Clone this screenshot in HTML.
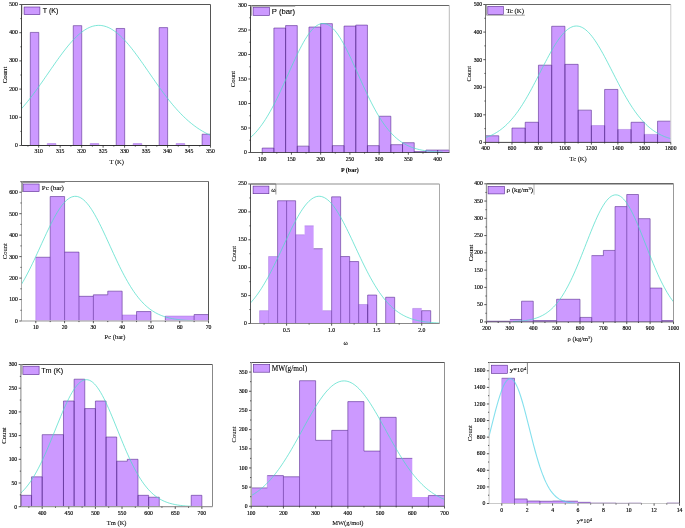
<!DOCTYPE html>
<html lang="en"><head><meta charset="utf-8"><title>Histograms</title>
<style>
html,body{margin:0;padding:0;background:#fff;}
body{width:685px;height:528px;overflow:hidden;}
svg{display:block;}
</style></head><body>
<svg width="685" height="528" viewBox="0 0 685 528">
<rect width="685" height="528" fill="#ffffff"/>
<g>
<path d="M30.31 145.5V32.42H38.77V145.5ZM47.27 145.5V143.53H55.86V145.5ZM73.26 145.5V25.65H81.72V145.5ZM90.23 145.5V143.53H98.82V145.5ZM116.21 145.5V28.47H124.68V145.5ZM133.18 145.5V143.53H141.77V145.5ZM159.17 145.5V27.62H167.63V145.5ZM176.14 145.5V143.53H184.73V145.5ZM202.12 145.5V134.22H210.5V145.5Z" fill="#CC99FF"/>
<path d="M47.27 145.5V143.53M47.27 143.53H55.86M55.86 143.53V145.5M90.23 145.5V143.53M90.23 143.53H98.82M98.82 143.53V145.5M133.18 145.5V143.53M133.18 143.53H141.77M141.77 143.53V145.5M176.14 145.5V143.53M176.14 143.53H184.73M184.73 143.53V145.5" fill="none" stroke="#A577DD" stroke-width="0.5"/>
<path d="M30.31 145.5V32.42M30.31 32.42H38.77M38.77 32.42V145.5M73.26 145.5V25.65M73.26 25.65H81.72M81.72 25.65V145.5M116.21 145.5V28.47M116.21 28.47H124.68M124.68 28.47V145.5M159.17 145.5V27.62M159.17 27.62H167.63M167.63 27.62V145.5M202.12 145.5V134.22M202.12 134.22H210.5" fill="none" stroke="#57298F" stroke-width="0.58"/>
<polyline fill="none" stroke="#4ADCC8" stroke-opacity="0.72" stroke-width="1.0" points="21.5,108.71 23.08,106.91 24.65,105.07 26.23,103.17 27.8,101.24 29.37,99.26 30.95,97.23 32.52,95.17 34.1,93.07 35.68,90.94 37.25,88.78 38.83,86.59 40.4,84.37 41.97,82.13 43.55,79.88 45.12,77.61 46.7,75.33 48.28,73.05 49.85,70.77 51.42,68.49 53,66.22 54.57,63.96 56.15,61.72 57.73,59.5 59.3,57.31 60.88,55.16 62.45,53.04 64.02,50.97 65.6,48.94 67.17,46.97 68.75,45.05 70.33,43.2 71.9,41.42 73.48,39.71 75.05,38.08 76.62,36.53 78.2,35.06 79.77,33.69 81.35,32.41 82.93,31.23 84.5,30.15 86.08,29.17 87.65,28.3 89.22,27.54 90.8,26.89 92.38,26.35 93.95,25.93 95.53,25.63 97.1,25.44 98.67,25.37 100.25,25.42 101.82,25.58 103.4,25.87 104.98,26.27 106.55,26.78 108.13,27.41 109.7,28.15 111.27,29 112.85,29.96 114.42,31.02 116,32.19 117.58,33.45 119.15,34.81 120.73,36.26 122.3,37.79 123.87,39.41 125.45,41.1 127.02,42.87 128.6,44.71 130.18,46.62 131.75,48.58 133.33,50.6 134.9,52.66 136.47,54.77 138.05,56.92 139.62,59.1 141.2,61.32 142.78,63.55 144.35,65.81 145.92,68.08 147.5,70.35 149.07,72.64 150.65,74.92 152.23,77.2 153.8,79.47 155.38,81.72 156.95,83.96 158.52,86.18 160.1,88.38 161.67,90.55 163.25,92.69 164.83,94.79 166.4,96.86 167.98,98.89 169.55,100.88 171.12,102.83 172.7,104.73 174.28,106.58 175.85,108.39 177.43,110.15 179,111.85 180.57,113.51 182.15,115.12 183.72,116.67 185.3,118.17 186.88,119.62 188.45,121.01 190.03,122.35 191.6,123.64 193.18,124.88 194.75,126.07 196.32,127.21 197.9,128.3 199.48,129.33 201.05,130.33 202.63,131.27 204.2,132.17 205.77,133.02 207.35,133.83 208.92,134.6 210.5,135.33"/>
<path d="M21.5 4.5H210.5" fill="none" stroke="#555" stroke-width="1.0"/>
<path d="M210.5 4.5V145.5" fill="none" stroke="#555" stroke-width="1.0"/>
<path d="M21.5 4.5V145.5" fill="none" stroke="#444" stroke-width="1.0"/>
<path d="M21.5 145.5H210.5" fill="none" stroke="#333" stroke-width="1.0"/>
<path d="M38.68 145.5v2.2M60.16 145.5v2.2M81.64 145.5v2.2M103.11 145.5v2.2M124.59 145.5v2.2M146.07 145.5v2.2M167.55 145.5v2.2M189.02 145.5v2.2M210.5 145.5v2.2M27.94 145.5v1.1M49.42 145.5v1.1M70.9 145.5v1.1M92.38 145.5v1.1M113.85 145.5v1.1M135.33 145.5v1.1M156.81 145.5v1.1M178.28 145.5v1.1M199.76 145.5v1.1M21.5 145.5h-2.2M21.5 117.3h-2.2M21.5 89.1h-2.2M21.5 60.9h-2.2M21.5 32.7h-2.2M21.5 4.5h-2.2M21.5 131.4h-1.1M21.5 103.2h-1.1M21.5 75h-1.1M21.5 46.8h-1.1M21.5 18.6h-1.1" stroke="#222222" stroke-width="0.75" fill="none"/>
<g font-family='"Liberation Serif", serif' font-size="5.7" fill="#000000" stroke="#000000" stroke-width="0.15">
<g text-anchor="middle">
<text x="38.68" y="153.2">310</text>
<text x="60.16" y="153.2">315</text>
<text x="81.64" y="153.2">320</text>
<text x="103.11" y="153.2">325</text>
<text x="124.59" y="153.2">330</text>
<text x="146.07" y="153.2">335</text>
<text x="167.55" y="153.2">340</text>
<text x="189.02" y="153.2">345</text>
<text x="210.5" y="153.2">350</text>
</g><g text-anchor="end">
<text x="17.8" y="146.98">0</text>
<text x="17.8" y="118.78">100</text>
<text x="17.8" y="90.58">200</text>
<text x="17.8" y="62.38">300</text>
<text x="17.8" y="34.18">400</text>
<text x="17.8" y="5.98">500</text>
</g></g>
<g font-family='"Liberation Serif", serif' font-size="6.8" fill="#000000" stroke="#000000" stroke-width="0.08" text-anchor="middle">
<text x="116.7" y="163.5" font-size="6.5">T (K)</text>
<text transform="translate(7 75) rotate(-90)">Count</text>
</g>
<rect x="24.1" y="7" width="15.8" height="7.6" fill="#CC99FF" stroke="#57298F" stroke-width="0.6"/>
<text x="42.8" y="12.9" font-family='"Liberation Sans", sans-serif' font-size="7.1" fill="#000000" stroke="#000000" stroke-width="0.1">T (K)</text>
<path d="M22.2 5V14.6" stroke="#999" stroke-width="0.5" fill="none"/>
</g>
<g>
<path d="M262.19 152.5V148.09H273.89V28.04H285.58V25.59H297.28V146.13H308.97V27.06H320.66V23.63H332.36V145.64H344.05V26.08H355.75V25.1H367.44V145.64H379.14V116.24H390.83V144.66H402.52V142.7H414.22V151.52H425.91V150.05H437.61V150.05H449.3V152.5Z" fill="#CC99FF"/>
<path d="M262.19 152.5V148.09M262.19 148.09H273.89M273.89 148.09V152.5M273.89 152.5V28.04M273.89 28.04H285.58M285.58 28.04V152.5M285.58 152.5V25.59M285.58 25.59H297.28M297.28 25.59V152.5M297.28 152.5V146.13M297.28 146.13H308.97M308.97 146.13V152.5M308.97 152.5V27.06M308.97 27.06H320.66M320.66 27.06V152.5M320.66 152.5V23.63M320.66 23.63H332.36M332.36 23.63V152.5M332.36 152.5V145.64M332.36 145.64H344.05M344.05 145.64V152.5M344.05 152.5V26.08M344.05 26.08H355.75M355.75 26.08V152.5M355.75 152.5V25.1M355.75 25.1H367.44M367.44 25.1V152.5M367.44 152.5V145.64M367.44 145.64H379.14M379.14 145.64V152.5M379.14 152.5V116.24M379.14 116.24H390.83M390.83 116.24V152.5M390.83 152.5V144.66M390.83 144.66H402.52M402.52 144.66V152.5M402.52 152.5V142.7M402.52 142.7H414.22M414.22 142.7V152.5M414.22 152.5V151.52M414.22 151.52H425.91M425.91 151.52V152.5M425.91 152.5V150.05M425.91 150.05H437.61M437.61 150.05V152.5M437.61 152.5V150.05M437.61 150.05H449.3M449.3 150.05V152.5" fill="none" stroke="#57298F" stroke-width="0.58"/>
<polyline fill="none" stroke="#4ADCC8" stroke-opacity="0.72" stroke-width="1.0" points="250.5,137.57 252.16,136.05 253.81,134.41 255.47,132.65 257.13,130.77 258.78,128.76 260.44,126.63 262.1,124.37 263.75,121.98 265.41,119.46 267.07,116.81 268.72,114.03 270.38,111.14 272.04,108.12 273.69,105 275.35,101.76 277.01,98.43 278.66,95.01 280.32,91.51 281.98,87.94 283.63,84.31 285.29,80.65 286.95,76.95 288.6,73.24 290.26,69.54 291.92,65.86 293.57,62.22 295.23,58.64 296.89,55.13 298.54,51.72 300.2,48.43 301.86,45.26 303.51,42.25 305.17,39.41 306.83,36.76 308.48,34.31 310.14,32.07 311.8,30.07 313.45,28.32 315.11,26.82 316.77,25.6 318.42,24.64 320.08,23.97 321.74,23.58 323.39,23.49 325.05,23.68 326.71,24.16 328.36,24.93 330.02,25.97 331.68,27.29 333.33,28.87 334.99,30.71 336.65,32.78 338.3,35.09 339.96,37.61 341.62,40.33 343.27,43.23 344.93,46.29 346.59,49.5 348.24,52.83 349.9,56.28 351.56,59.81 353.21,63.42 354.87,67.07 356.53,70.76 358.18,74.47 359.84,78.17 361.5,81.86 363.15,85.51 364.81,89.12 366.47,92.67 368.12,96.14 369.78,99.54 371.44,102.84 373.09,106.04 374.75,109.13 376.41,112.11 378.06,114.96 379.72,117.69 381.38,120.3 383.03,122.78 384.69,125.13 386.35,127.34 388,129.44 389.66,131.4 391.32,133.24 392.97,134.96 394.63,136.56 396.29,138.05 397.94,139.43 399.6,140.7 401.26,141.88 402.91,142.95 404.57,143.94 406.23,144.85 407.88,145.67 409.54,146.42 411.2,147.09 412.85,147.71 414.51,148.26 416.17,148.76 417.82,149.21 419.48,149.61 421.14,149.96 422.79,150.28 424.45,150.56 426.11,150.81 427.76,151.04 429.42,151.23 431.08,151.4 432.73,151.55 434.39,151.68 436.05,151.8 437.7,151.9 439.36,151.99 441.02,152.06 442.67,152.13"/>
<path d="M250.5 5.5H449.3" fill="none" stroke="#666" stroke-width="1.0"/>
<path d="M449.3 5.5V152.5" fill="none" stroke="#bbb" stroke-width="1.0"/>
<path d="M250.5 5.5V152.5" fill="none" stroke="#444" stroke-width="1.0"/>
<path d="M250.5 152.5H449.3" fill="none" stroke="#2a2a2a" stroke-width="0.8"/>
<path d="M262.19 152.5v2.2M291.43 152.5v2.2M320.66 152.5v2.2M349.9 152.5v2.2M379.14 152.5v2.2M408.37 152.5v2.2M437.61 152.5v2.2M276.81 152.5v1.1M306.05 152.5v1.1M335.28 152.5v1.1M364.52 152.5v1.1M393.75 152.5v1.1M422.99 152.5v1.1M250.5 152.5h-2.2M250.5 128h-2.2M250.5 103.5h-2.2M250.5 79h-2.2M250.5 54.5h-2.2M250.5 30h-2.2M250.5 5.5h-2.2M250.5 140.25h-1.1M250.5 115.75h-1.1M250.5 91.25h-1.1M250.5 66.75h-1.1M250.5 42.25h-1.1M250.5 17.75h-1.1" stroke="#222222" stroke-width="0.75" fill="none"/>
<g font-family='"Liberation Serif", serif' font-size="5.7" fill="#000000" stroke="#000000" stroke-width="0.15">
<g text-anchor="middle">
<text x="262.19" y="160.8">100</text>
<text x="291.43" y="160.8">150</text>
<text x="320.66" y="160.8">200</text>
<text x="349.9" y="160.8">250</text>
<text x="379.14" y="160.8">300</text>
<text x="408.37" y="160.8">350</text>
<text x="437.61" y="160.8">400</text>
</g><g text-anchor="end">
<text x="246.8" y="154.28">0</text>
<text x="246.8" y="129.78">50</text>
<text x="246.8" y="105.28">100</text>
<text x="246.8" y="80.78">150</text>
<text x="246.8" y="56.28">200</text>
<text x="246.8" y="31.78">250</text>
<text x="246.8" y="7.28">300</text>
</g></g>
<g font-family='"Liberation Serif", serif' font-size="6.7" fill="#000000" stroke="#000000" stroke-width="0.08" text-anchor="middle">
<text x="349.9" y="171.7" font-size="6.0" font-weight="bold">P (bar)</text>
<text transform="translate(235.3 79) rotate(-90)">Count</text>
</g>
<rect x="253.1" y="7.2" width="16.4" height="8.3" fill="#CC99FF" stroke="#57298F" stroke-width="0.6"/>
<text x="271.8" y="14.1" font-family='"Liberation Sans", sans-serif' font-size="7.7" fill="#000000" stroke="#000000" stroke-width="0.1">P (bar)</text>
<path d="M251.5 5.5V15.8" stroke="#aaa" stroke-width="1.0" fill="none"/>
<path d="M250.5 6.4H295.2" stroke="#aaa" stroke-width="0.9" fill="none"/>
</g>
<g>
<path d="M485.5 142.4V135.78H498.74V142.4ZM511.97 142.4V128.06H525.21V122.27H538.44V65.18H551.68V26.29H564.91V64.35H578.15V110.13H591.39V125.58H604.62V89.45H617.86V129.44H631.09V122.27H644.33V134.4H657.56V121.16H670.8V142.4Z" fill="#CC99FF"/>
<path d="M591.39 125.58H604.62M617.86 129.44H631.09M644.33 134.4H657.56" fill="none" stroke="#A577DD" stroke-width="0.5"/>
<path d="M485.5 142.4V135.78M485.5 135.78H498.74M498.74 135.78V142.4M511.97 142.4V128.06M511.97 128.06H525.21M525.21 128.06V142.4M525.21 142.4V122.27M525.21 122.27H538.44M538.44 122.27V142.4M538.44 142.4V65.18M538.44 65.18H551.68M551.68 65.18V142.4M551.68 142.4V26.29M551.68 26.29H564.91M564.91 26.29V142.4M564.91 142.4V64.35M564.91 64.35H578.15M578.15 64.35V142.4M578.15 142.4V110.13M578.15 110.13H591.39M591.39 110.13V142.4M591.39 142.4V125.58M604.62 125.58V142.4M604.62 142.4V89.45M604.62 89.45H617.86M617.86 89.45V142.4M617.86 142.4V129.44M631.09 129.44V142.4M631.09 142.4V122.27M631.09 122.27H644.33M644.33 122.27V142.4M644.33 142.4V134.4M657.56 134.4V142.4M657.56 142.4V121.16M657.56 121.16H670.8" fill="none" stroke="#57298F" stroke-width="0.58"/>
<polyline fill="none" stroke="#4ADCC8" stroke-opacity="0.72" stroke-width="1.0" points="485.5,137.61 487.04,137.06 488.59,136.47 490.13,135.82 491.68,135.11 493.22,134.35 494.76,133.52 496.31,132.62 497.85,131.65 499.4,130.6 500.94,129.48 502.49,128.28 504.03,126.99 505.57,125.62 507.12,124.16 508.66,122.61 510.21,120.96 511.75,119.22 513.29,117.39 514.84,115.46 516.38,113.44 517.93,111.32 519.47,109.11 521.02,106.8 522.56,104.41 524.1,101.92 525.65,99.36 527.19,96.72 528.74,94 530.28,91.22 531.82,88.38 533.37,85.48 534.91,82.54 536.46,79.56 538,76.56 539.55,73.54 541.09,70.51 542.63,67.49 544.18,64.48 545.72,61.5 547.27,58.57 548.81,55.68 550.36,52.86 551.9,50.12 553.44,47.47 554.99,44.93 556.53,42.5 558.08,40.2 559.62,38.03 561.16,36.02 562.71,34.17 564.25,32.48 565.8,30.98 567.34,29.66 568.88,28.54 570.43,27.62 571.97,26.9 573.52,26.39 575.06,26.1 576.61,26.01 578.15,26.15 579.69,26.49 581.24,27.05 582.78,27.81 584.33,28.78 585.87,29.95 587.41,31.31 588.96,32.85 590.5,34.57 592.05,36.47 593.59,38.51 595.14,40.71 596.68,43.04 598.22,45.5 599.77,48.07 601.31,50.74 602.86,53.5 604.4,56.34 605.94,59.23 607.49,62.18 609.03,65.17 610.58,68.18 612.12,71.2 613.67,74.23 615.21,77.25 616.75,80.25 618.3,83.22 619.84,86.15 621.39,89.03 622.93,91.86 624.47,94.63 626.02,97.33 627.56,99.95 629.11,102.5 630.65,104.96 632.2,107.34 633.74,109.62 635.28,111.81 636.83,113.91 638.37,115.91 639.92,117.82 641.46,119.63 643,121.35 644.55,122.97 646.09,124.5 647.64,125.94 649.18,127.29 650.73,128.56 652.27,129.75 653.81,130.85 655.36,131.88 656.9,132.83 658.45,133.71 659.99,134.53 661.53,135.28 663.08,135.97 664.62,136.61 666.17,137.19 667.71,137.72 669.26,138.21 670.8,138.65"/>
<path d="M485.5 4.5H670.8" fill="none" stroke="#666" stroke-width="1.0"/>
<path d="M670.8 4.5V142.4" fill="none" stroke="#ccc" stroke-width="1.0"/>
<path d="M485.5 4.5V142.4" fill="none" stroke="#777" stroke-width="1.0"/>
<path d="M485.5 142.4H670.8" fill="none" stroke="#444" stroke-width="1.0"/>
<path d="M485.5 142.4v2.2M511.97 142.4v2.2M538.44 142.4v2.2M564.91 142.4v2.2M591.39 142.4v2.2M617.86 142.4v2.2M644.33 142.4v2.2M670.8 142.4v2.2M498.74 142.4v1.1M525.21 142.4v1.1M551.68 142.4v1.1M578.15 142.4v1.1M604.62 142.4v1.1M631.09 142.4v1.1M657.56 142.4v1.1M485.5 142.4h-2.2M485.5 114.82h-2.2M485.5 87.24h-2.2M485.5 59.66h-2.2M485.5 32.08h-2.2M485.5 4.5h-2.2M485.5 128.61h-1.1M485.5 101.03h-1.1M485.5 73.45h-1.1M485.5 45.87h-1.1M485.5 18.29h-1.1" stroke="#222222" stroke-width="0.75" fill="none"/>
<g font-family='"Liberation Serif", serif' font-size="5.7" fill="#000000" stroke="#000000" stroke-width="0.15">
<g text-anchor="middle">
<text x="485.5" y="150.4">400</text>
<text x="511.97" y="150.4">600</text>
<text x="538.44" y="150.4">800</text>
<text x="564.91" y="150.4">1000</text>
<text x="591.39" y="150.4">1200</text>
<text x="617.86" y="150.4">1400</text>
<text x="644.33" y="150.4">1600</text>
<text x="670.8" y="150.4">1800</text>
</g><g text-anchor="end">
<text x="482.2" y="144.28">0</text>
<text x="482.2" y="116.7">100</text>
<text x="482.2" y="89.12">200</text>
<text x="482.2" y="61.54">300</text>
<text x="482.2" y="33.96">400</text>
<text x="482.2" y="6.38">500</text>
</g></g>
<g font-family='"Liberation Serif", serif' font-size="6.3" fill="#000000" stroke="#000000" stroke-width="0.08" text-anchor="middle">
<text x="578.15" y="160.6" font-size="6.5">Tc (K)</text>
<text transform="translate(471.1 73.8) rotate(-90)">Count</text>
</g>
<rect x="487.8" y="6.4" width="15.5" height="8.2" fill="#CC99FF" stroke="#57298F" stroke-width="0.6"/>
<text x="506.2" y="12.9" font-family='"Liberation Serif", serif' font-size="6.8" fill="#000000" stroke="#000000" stroke-width="0.1">Tc (K)</text>
<path d="M486.5 5V15.2" stroke="#aaa" stroke-width="1.0" fill="none"/>
<path d="M486.5 15.2H524.9" stroke="#666" stroke-width="0.6" fill="none"/>
</g>
<g>
<path d="M35.8 321V257.26H50.2V196.52H64.59V252.11H78.98V296.32H93.37V294.82H107.76V291.17H122.15V314.99H136.54V311.56H150.93V321ZM165.33 321V316.06H194.11V314.56H208.5V321Z" fill="#CC99FF"/>
<path d="M35.8 321V257.26M122.15 314.99H136.54M165.33 316.06H194.11" fill="none" stroke="#A577DD" stroke-width="0.5"/>
<path d="M35.8 257.26H50.2M50.2 257.26V321M50.2 196.52H64.59M64.59 196.52V321M50.2 257.26V196.52M64.59 252.11H78.98M78.98 252.11V321M78.98 296.32H93.37M93.37 296.32V321M93.37 294.82H107.76M93.37 296.32V294.82M107.76 291.17H122.15M122.15 291.17V321M107.76 294.82V291.17M136.54 321V311.56M136.54 311.56H150.93M150.93 311.56V321M165.33 321V316.06M194.11 321V314.56M194.11 314.56H208.5" fill="none" stroke="#57298F" stroke-width="0.58"/>
<polyline fill="none" stroke="#4ADCC8" stroke-opacity="0.72" stroke-width="1.0" points="21.5,284.27 23.06,281.62 24.62,278.86 26.18,276 27.73,273.05 29.29,270 30.85,266.87 32.41,263.67 33.97,260.41 35.53,257.09 37.08,253.72 38.64,250.32 40.2,246.91 41.76,243.48 43.32,240.07 44.88,236.68 46.43,233.32 47.99,230.02 49.55,226.79 51.11,223.64 52.67,220.59 54.23,217.66 55.78,214.86 57.34,212.21 58.9,209.72 60.46,207.41 62.02,205.28 63.58,203.36 65.13,201.65 66.69,200.17 68.25,198.91 69.81,197.9 71.37,197.13 72.93,196.61 74.48,196.35 76.04,196.34 77.6,196.58 79.16,197.08 80.72,197.83 82.28,198.83 83.83,200.06 85.39,201.53 86.95,203.22 88.51,205.13 90.07,207.24 91.62,209.53 93.18,212.01 94.74,214.65 96.3,217.44 97.86,220.36 99.42,223.4 100.97,226.54 102.53,229.76 104.09,233.06 105.65,236.41 107.21,239.8 108.77,243.22 110.32,246.64 111.88,250.06 113.44,253.46 115,256.83 116.56,260.15 118.12,263.42 119.68,266.63 121.23,269.76 122.79,272.81 124.35,275.77 125.91,278.64 127.47,281.41 129.03,284.07 130.58,286.62 132.14,289.07 133.7,291.4 135.26,293.61 136.82,295.71 138.38,297.7 139.93,299.58 141.49,301.34 143.05,303 144.61,304.55 146.17,306 147.72,307.35 149.28,308.6 150.84,309.76 152.4,310.83 153.96,311.82 155.52,312.73 157.08,313.57 158.63,314.33 160.19,315.03 161.75,315.67 163.31,316.24 164.87,316.77 166.43,317.24 167.98,317.67 169.54,318.05 171.1,318.4 172.66,318.71 174.22,318.99 175.78,319.23 177.33,319.45 178.89,319.65 180.45,319.82 182.01,319.98 183.57,320.11 185.12,320.23 186.68,320.33 188.24,320.43 189.8,320.51 191.36,320.57 192.92,320.64"/>
<path d="M21.5 181.5H208.5" fill="none" stroke="#777" stroke-width="1.0"/>
<path d="M208.5 181.5V321" fill="none" stroke="#444" stroke-width="0.9"/>
<path d="M21.5 181.5V321" fill="none" stroke="#aaa" stroke-width="1.0"/>
<path d="M21.5 321H208.5" fill="none" stroke="#bbb" stroke-width="1.5"/>
<path d="M35.8 321v2.2M64.59 321v2.2M93.37 321v2.2M122.15 321v2.2M150.93 321v2.2M179.72 321v2.2M208.5 321v2.2M50.2 321v1.1M78.98 321v1.1M107.76 321v1.1M136.54 321v1.1M165.33 321v1.1M194.11 321v1.1M21.5 321h-2.2M21.5 299.54h-2.2M21.5 278.08h-2.2M21.5 256.62h-2.2M21.5 235.15h-2.2M21.5 213.69h-2.2M21.5 192.23h-2.2M21.5 310.27h-1.1M21.5 288.81h-1.1M21.5 267.35h-1.1M21.5 245.88h-1.1M21.5 224.42h-1.1M21.5 202.96h-1.1M21.5 181.5h-1.1" stroke="#222222" stroke-width="0.75" fill="none"/>
<g font-family='"Liberation Serif", serif' font-size="5.7" fill="#000000" stroke="#000000" stroke-width="0.15">
<g text-anchor="middle">
<text x="35.8" y="329.2">10</text>
<text x="64.59" y="329.2">20</text>
<text x="93.37" y="329.2">30</text>
<text x="122.15" y="329.2">40</text>
<text x="150.93" y="329.2">50</text>
<text x="179.72" y="329.2">60</text>
<text x="208.5" y="329.2">70</text>
</g><g text-anchor="end">
<text x="17.8" y="322.88">0</text>
<text x="17.8" y="301.42">100</text>
<text x="17.8" y="279.96">200</text>
<text x="17.8" y="258.5">300</text>
<text x="17.8" y="237.03">400</text>
<text x="17.8" y="215.57">500</text>
<text x="17.8" y="194.11">600</text>
</g></g>
<g font-family='"Liberation Serif", serif' font-size="6.5" fill="#000000" stroke="#000000" stroke-width="0.08" text-anchor="middle">
<text x="115" y="339" font-size="6.5">Pc (bar)</text>
<text transform="translate(7.3 251.25) rotate(-90)">Count</text>
</g>
<rect x="23.1" y="184" width="16" height="7.6" fill="#CC99FF" stroke="#57298F" stroke-width="0.6"/>
<text x="41.8" y="190.2" font-family='"Liberation Serif", serif' font-size="6.9" fill="#000000" stroke="#000000" stroke-width="0.1">Pc (bar)</text>
<path d="M20.8 182.4H64.8" stroke="#888" stroke-width="1.0" fill="none"/>
<path d="M22.5 181.5V192" stroke="#999" stroke-width="1.0" fill="none"/>
</g>
<g>
<path d="M259.58 323.5V310.67H268.59V256.54H277.59V200.74H286.6V200.74H295.61V234.78H304.61V225.85H313.62V248.73H322.63V310.67H331.63V196.83H340.64V256.54H349.65V261.56H358.65V304.53H367.66V295.04H376.67V323.5ZM385.67 323.5V297.27H394.68V323.5ZM412.7 323.5V308.43H421.7V310.67H430.71V323.5Z" fill="#CC99FF"/>
<path d="M259.58 323.5V310.67M259.58 310.67H268.59M268.59 323.5V256.54M268.59 256.54H277.59M295.61 234.78H304.61M304.61 225.85H313.62M322.63 310.67H331.63M358.65 304.53H367.66M412.7 323.5V308.43M412.7 308.43H421.7" fill="none" stroke="#A577DD" stroke-width="0.5"/>
<path d="M277.59 323.5V200.74M277.59 200.74H286.6M286.6 323.5V200.74M286.6 200.74H295.61M295.61 200.74V323.5M313.62 248.73H322.63M331.63 323.5V196.83M331.63 196.83H340.64M340.64 196.83V323.5M340.64 256.54H349.65M349.65 256.54V323.5M349.65 261.56H358.65M358.65 261.56V323.5M367.66 304.53V323.5M367.66 323.5V295.04M367.66 295.04H376.67M376.67 295.04V323.5M385.67 323.5V297.27M385.67 297.27H394.68M394.68 297.27V323.5M421.7 323.5V310.67M421.7 310.67H430.71M430.71 310.67V323.5" fill="none" stroke="#57298F" stroke-width="0.58"/>
<polyline fill="none" stroke="#4ADCC8" stroke-opacity="0.72" stroke-width="1.0" points="250.5,302.94 252.07,301.17 253.65,299.29 255.22,297.3 256.8,295.21 258.38,293 259.95,290.69 261.52,288.27 263.1,285.74 264.68,283.11 266.25,280.38 267.82,277.55 269.4,274.63 270.98,271.63 272.55,268.54 274.12,265.39 275.7,262.17 277.27,258.9 278.85,255.58 280.43,252.23 282,248.86 283.57,245.48 285.15,242.1 286.73,238.74 288.3,235.41 289.88,232.13 291.45,228.9 293.02,225.75 294.6,222.68 296.18,219.72 297.75,216.88 299.32,214.17 300.9,211.61 302.48,209.21 304.05,206.98 305.62,204.93 307.2,203.08 308.77,201.43 310.35,200 311.93,198.8 313.5,197.82 315.07,197.08 316.65,196.57 318.23,196.31 319.8,196.3 321.38,196.53 322.95,197 324.52,197.71 326.1,198.66 327.68,199.83 329.25,201.24 330.82,202.85 332.4,204.68 333.98,206.7 335.55,208.91 337.12,211.29 338.7,213.83 340.27,216.53 341.85,219.35 343.43,222.3 345,225.35 346.57,228.49 348.15,231.71 349.73,234.98 351.3,238.31 352.88,241.67 354.45,245.04 356.02,248.42 357.6,251.8 359.18,255.15 360.75,258.47 362.32,261.75 363.9,264.98 365.48,268.14 367.05,271.23 368.62,274.25 370.2,277.18 371.77,280.02 373.35,282.76 374.93,285.41 376.5,287.95 378.07,290.38 379.65,292.71 381.23,294.93 382.8,297.04 384.38,299.04 385.95,300.93 387.52,302.72 389.1,304.4 390.68,305.98 392.25,307.46 393.82,308.84 395.4,310.13 396.98,311.33 398.55,312.44 400.12,313.47 401.7,314.43 403.27,315.3 404.85,316.11 406.42,316.85 408,317.53 409.57,318.15 411.15,318.71 412.73,319.22 414.3,319.69 415.88,320.11 417.45,320.49 419.02,320.83 420.6,321.14 422.18,321.42 423.75,321.66 425.32,321.89 426.9,322.08 428.48,322.26 430.05,322.42 431.62,322.55 433.2,322.68 434.77,322.78 436.35,322.88 437.93,322.96 439.5,323.03"/>
<path d="M250.5 184H439.5" fill="none" stroke="#b4b4b4" stroke-width="1.4"/>
<path d="M439.5 184V323.5" fill="none" stroke="#aaa" stroke-width="1.0"/>
<path d="M250.5 184V323.5" fill="none" stroke="#555" stroke-width="1.0"/>
<path d="M250.5 323.5H439.5" fill="none" stroke="#888" stroke-width="1.0"/>
<path d="M286.6 323.5v2.2M331.63 323.5v2.2M376.67 323.5v2.2M421.7 323.5v2.2M264.08 323.5v1.1M309.12 323.5v1.1M354.15 323.5v1.1M399.19 323.5v1.1M250.5 323.5h-2.2M250.5 295.6h-2.2M250.5 267.7h-2.2M250.5 239.8h-2.2M250.5 211.9h-2.2M250.5 184h-2.2M250.5 309.55h-1.1M250.5 281.65h-1.1M250.5 253.75h-1.1M250.5 225.85h-1.1M250.5 197.95h-1.1" stroke="#222222" stroke-width="0.75" fill="none"/>
<g font-family='"Liberation Serif", serif' font-size="5.7" fill="#000000" stroke="#000000" stroke-width="0.15">
<g text-anchor="middle">
<text x="286.6" y="332.4">0.5</text>
<text x="331.63" y="332.4">1.0</text>
<text x="376.67" y="332.4">1.5</text>
<text x="421.7" y="332.4">2.0</text>
</g><g text-anchor="end">
<text x="246.8" y="324.98">0</text>
<text x="246.8" y="297.08">50</text>
<text x="246.8" y="269.18">100</text>
<text x="246.8" y="241.28">150</text>
<text x="246.8" y="213.38">200</text>
<text x="246.8" y="185.48">250</text>
</g></g>
<g font-family='"Liberation Serif", serif' font-size="6.4" fill="#000000" stroke="#000000" stroke-width="0.08" text-anchor="middle">
<text x="345.6" y="344.5" font-size="6.5">ω</text>
<text transform="translate(236.2 253.75) rotate(-90)">Count</text>
</g>
<rect x="253.1" y="186.1" width="15.8" height="7.6" fill="#CC99FF" stroke="#57298F" stroke-width="0.6"/>
<text x="271.2" y="192.4" font-family='"Liberation Serif", serif' font-size="6.9" fill="#000000" stroke="#000000" stroke-width="0.1">ω</text>
<path d="M250.5 184H275.9" stroke="#888" stroke-width="1.4" fill="none"/>
<path d="M275.9 184V194.5" stroke="#777" stroke-width="0.7" fill="none"/>
</g>
<g>
<path d="M486.5 321.9V321.21H509.88V319.48H521.56V301.19H533.25V320.52H556.62V299.29H580V317.41H591.69V255.61H603.38V250.43H615.06V206.59H626.75V194.5H638.44V218.67H650.12V288.07H661.81V320.52H673.5V321.9Z" fill="#CC99FF"/>
<path d="M591.69 321.9V255.61" fill="none" stroke="#A577DD" stroke-width="0.5"/>
<path d="M486.5 321.21H509.88M509.88 319.48H521.56M521.56 321.9V301.19M521.56 301.19H533.25M533.25 301.19V321.9M533.25 320.52H556.62M556.62 321.9V299.29M556.62 299.29H580M580 299.29V321.9M580 321.9V317.41M580 317.41H591.69M591.69 317.41V321.9M591.69 255.61H603.38M603.38 250.43H615.06M615.06 250.43V321.9M603.38 255.61V250.43M615.06 206.59H626.75M626.75 206.59V321.9M615.06 250.43V206.59M626.75 194.5H638.44M638.44 194.5V321.9M626.75 206.59V194.5M638.44 218.67H650.12M650.12 218.67V321.9M650.12 288.07H661.81M661.81 288.07V321.9M661.81 320.52H673.5" fill="none" stroke="#57298F" stroke-width="0.58"/>
<polyline fill="none" stroke="#4ADCC8" stroke-opacity="0.72" stroke-width="1.0" points="512.99,321.54 514.55,321.47 516.11,321.38 517.67,321.29 519.23,321.17 520.78,321.04 522.34,320.89 523.9,320.72 525.46,320.52 527.02,320.28 528.58,320.02 530.13,319.72 531.69,319.37 533.25,318.98 534.81,318.54 536.37,318.04 537.92,317.48 539.48,316.85 541.04,316.14 542.6,315.36 544.16,314.49 545.72,313.52 547.27,312.46 548.83,311.29 550.39,310 551.95,308.6 553.51,307.07 555.07,305.41 556.62,303.61 558.18,301.67 559.74,299.58 561.3,297.35 562.86,294.97 564.42,292.43 565.98,289.74 567.53,286.9 569.09,283.91 570.65,280.77 572.21,277.5 573.77,274.09 575.33,270.57 576.88,266.93 578.44,263.19 580,259.36 581.56,255.47 583.12,251.52 584.67,247.54 586.23,243.54 587.79,239.55 589.35,235.59 590.91,231.68 592.47,227.85 594.02,224.12 595.58,220.52 597.14,217.06 598.7,213.78 600.26,210.7 601.82,207.83 603.38,205.21 604.93,202.84 606.49,200.76 608.05,198.97 609.61,197.49 611.17,196.33 612.73,195.5 614.28,195 615.84,194.85 617.4,195.04 618.96,195.56 620.52,196.43 622.08,197.62 623.63,199.13 625.19,200.95 626.75,203.07 628.31,205.46 629.87,208.11 631.42,211 632.98,214.1 634.54,217.4 636.1,220.87 637.66,224.49 639.22,228.23 640.77,232.07 642.33,235.98 643.89,239.95 645.45,243.94 647.01,247.94 648.57,251.92 650.12,255.86 651.68,259.75 653.24,263.57 654.8,267.3 656.36,270.93 657.92,274.44 659.48,277.83 661.03,281.09 662.59,284.21 664.15,287.19 665.71,290.01 667.27,292.69 668.83,295.21 670.38,297.58 671.94,299.8 673.5,301.87"/>
<path d="M486.5 183.8H673.5" fill="none" stroke="#666" stroke-width="1.6"/>
<path d="M673.5 183.8V321.9" fill="none" stroke="#999" stroke-width="1.0"/>
<path d="M486.5 183.8V321.9" fill="none" stroke="#999" stroke-width="1.3"/>
<path d="M486.5 321.9H673.5" fill="none" stroke="#444" stroke-width="0.8"/>
<path d="M486.5 321.9v2.2M509.88 321.9v2.2M533.25 321.9v2.2M556.62 321.9v2.2M580 321.9v2.2M603.38 321.9v2.2M626.75 321.9v2.2M650.12 321.9v2.2M673.5 321.9v2.2M498.19 321.9v1.1M521.56 321.9v1.1M544.94 321.9v1.1M568.31 321.9v1.1M591.69 321.9v1.1M615.06 321.9v1.1M638.44 321.9v1.1M661.81 321.9v1.1M486.5 321.9h-2.2M486.5 304.64h-2.2M486.5 287.38h-2.2M486.5 270.11h-2.2M486.5 252.85h-2.2M486.5 235.59h-2.2M486.5 218.33h-2.2M486.5 201.06h-2.2M486.5 183.8h-2.2M486.5 313.27h-1.1M486.5 296.01h-1.1M486.5 278.74h-1.1M486.5 261.48h-1.1M486.5 244.22h-1.1M486.5 226.96h-1.1M486.5 209.69h-1.1M486.5 192.43h-1.1" stroke="#222222" stroke-width="0.75" fill="none"/>
<g font-family='"Liberation Serif", serif' font-size="5.7" fill="#000000" stroke="#000000" stroke-width="0.15">
<g text-anchor="middle">
<text x="486.5" y="330.4">200</text>
<text x="509.88" y="330.4">300</text>
<text x="533.25" y="330.4">400</text>
<text x="556.62" y="330.4">500</text>
<text x="580" y="330.4">600</text>
<text x="603.38" y="330.4">700</text>
<text x="626.75" y="330.4">800</text>
<text x="650.12" y="330.4">900</text>
<text x="673.5" y="330.4">1000</text>
</g><g text-anchor="end">
<text x="482.8" y="323.48">0</text>
<text x="482.8" y="306.22">50</text>
<text x="482.8" y="288.96">100</text>
<text x="482.8" y="271.69">150</text>
<text x="482.8" y="254.43">200</text>
<text x="482.8" y="237.17">250</text>
<text x="482.8" y="219.91">300</text>
<text x="482.8" y="202.64">350</text>
<text x="482.8" y="185.38">400</text>
</g></g>
<g font-family='"Liberation Serif", serif' font-size="6.8" fill="#000000" stroke="#000000" stroke-width="0.08" text-anchor="middle">
<text x="580" y="341" font-size="6.5">ρ (kg/m<tspan dy="-2.4" font-size="4.4">3</tspan><tspan dy="2.4">)</tspan></text>
<text transform="translate(472.5 252.85) rotate(-90)">Count</text>
</g>
<rect x="488.1" y="186.4" width="16.4" height="7.5" fill="#CC99FF" stroke="#57298F" stroke-width="0.6"/>
<text x="506.5" y="192.4" font-family='"Liberation Serif", serif' font-size="7.0" fill="#000000" stroke="#000000" stroke-width="0.1">ρ (kg/m<tspan dy="-2.4" font-size="4.4">3</tspan><tspan dy="2.4">)</tspan></text>
<path d="M534 183.4V194.8" stroke="#666" stroke-width="0.5" fill="none"/>
</g>
<g>
<path d="M20.9 506.7V495.32H31.54V476.84H42.19V434.65H63.48V401H74.12V379.19H84.77V408.58H95.41V401H106.06V437.02H116.7V461.2H127.34V459.3H137.99V495.32H148.63V497.22H159.28V506.7ZM191.21 506.7V495.32H201.86V506.7Z" fill="#CC99FF"/>
<path d="M20.9 506.7V495.32M20.9 495.32H31.54M31.54 495.32V506.7M31.54 506.7V476.84M31.54 476.84H42.19M42.19 476.84V506.7M42.19 506.7V434.65M42.19 434.65H63.48M63.48 434.65V506.7M63.48 506.7V401M63.48 401H74.12M74.12 401V506.7M74.12 506.7V379.19M74.12 379.19H84.77M84.77 379.19V506.7M84.77 506.7V408.58M84.77 408.58H95.41M95.41 408.58V506.7M95.41 506.7V401M95.41 401H106.06M106.06 401V506.7M106.06 506.7V437.02M106.06 437.02H116.7M116.7 437.02V506.7M116.7 506.7V461.2M116.7 461.2H127.34M127.34 459.3H137.99M137.99 459.3V506.7M127.34 461.2V459.3M137.99 506.7V495.32M137.99 495.32H148.63M148.63 495.32V506.7M148.63 506.7V497.22M148.63 497.22H159.28M159.28 497.22V506.7M191.21 506.7V495.32M191.21 495.32H201.86M201.86 495.32V506.7" fill="none" stroke="#57298F" stroke-width="0.58"/>
<polyline fill="none" stroke="#4ADCC8" stroke-opacity="0.72" stroke-width="1.0" points="20.9,492.98 22.5,491.43 24.09,489.74 25.69,487.92 27.29,485.96 28.88,483.86 30.48,481.61 32.08,479.21 33.67,476.66 35.27,473.96 36.87,471.11 38.46,468.11 40.06,464.98 41.66,461.71 43.25,458.31 44.85,454.79 46.45,451.17 48.04,447.45 49.64,443.64 51.24,439.77 52.83,435.85 54.43,431.9 56.03,427.93 57.62,423.98 59.22,420.06 60.82,416.19 62.41,412.39 64.01,408.7 65.61,405.14 67.2,401.72 68.8,398.47 70.4,395.42 71.99,392.59 73.59,389.99 75.19,387.65 76.78,385.58 78.38,383.8 79.98,382.33 81.57,381.17 83.17,380.34 84.77,379.84 86.36,379.67 87.96,379.84 89.56,380.34 91.15,381.17 92.75,382.33 94.35,383.8 95.94,385.58 97.54,387.65 99.14,389.99 100.73,392.59 102.33,395.42 103.93,398.47 105.52,401.72 107.12,405.14 108.72,408.7 110.31,412.39 111.91,416.19 113.51,420.06 115.1,423.98 116.7,427.93 118.3,431.9 119.89,435.85 121.49,439.77 123.09,443.64 124.68,447.45 126.28,451.17 127.88,454.79 129.47,458.31 131.07,461.71 132.67,464.98 134.26,468.11 135.86,471.11 137.46,473.96 139.05,476.66 140.65,479.21 142.25,481.61 143.84,483.86 145.44,485.96 147.04,487.92 148.63,489.74 150.23,491.43 151.83,492.98 153.42,494.41 155.02,495.72 156.62,496.91 158.21,498 159.81,498.99 161.41,499.88 163,500.69 164.6,501.41 166.2,502.06 167.79,502.64 169.39,503.16 170.99,503.62 172.58,504.03 174.18,504.38 175.78,504.7 177.37,504.98 178.97,505.22 180.57,505.43 182.16,505.62 183.76,505.78 185.36,505.92 186.95,506.04 188.55,506.14 190.15,506.23 191.74,506.3"/>
<path d="M20.9 364.5H212.5" fill="none" stroke="#555" stroke-width="1.0"/>
<path d="M212.5 364.5V506.7" fill="none" stroke="#888" stroke-width="1.0"/>
<path d="M20.9 364.5V506.7" fill="none" stroke="#666" stroke-width="0.8"/>
<path d="M20.9 506.7H212.5" fill="none" stroke="#999" stroke-width="1.2"/>
<path d="M42.19 506.7v2.2M68.8 506.7v2.2M95.41 506.7v2.2M122.02 506.7v2.2M148.63 506.7v2.2M175.24 506.7v2.2M201.86 506.7v2.2M28.88 506.7v1.1M55.49 506.7v1.1M82.11 506.7v1.1M108.72 506.7v1.1M135.33 506.7v1.1M161.94 506.7v1.1M188.55 506.7v1.1M20.9 506.7h-2.2M20.9 483h-2.2M20.9 459.3h-2.2M20.9 435.6h-2.2M20.9 411.9h-2.2M20.9 388.2h-2.2M20.9 364.5h-2.2M20.9 494.85h-1.1M20.9 471.15h-1.1M20.9 447.45h-1.1M20.9 423.75h-1.1M20.9 400.05h-1.1M20.9 376.35h-1.1" stroke="#222222" stroke-width="0.75" fill="none"/>
<g font-family='"Liberation Serif", serif' font-size="5.7" fill="#000000" stroke="#000000" stroke-width="0.15">
<g text-anchor="middle">
<text x="42.19" y="514.6">400</text>
<text x="68.8" y="514.6">450</text>
<text x="95.41" y="514.6">500</text>
<text x="122.02" y="514.6">550</text>
<text x="148.63" y="514.6">600</text>
<text x="175.24" y="514.6">650</text>
<text x="201.86" y="514.6">700</text>
</g><g text-anchor="end">
<text x="17.2" y="508.58">0</text>
<text x="17.2" y="484.88">50</text>
<text x="17.2" y="461.18">100</text>
<text x="17.2" y="437.48">150</text>
<text x="17.2" y="413.78">200</text>
<text x="17.2" y="390.08">250</text>
<text x="17.2" y="366.38">300</text>
</g></g>
<g font-family='"Liberation Serif", serif' font-size="6.75" fill="#000000" stroke="#000000" stroke-width="0.08" text-anchor="middle">
<text x="116.7" y="524.9" font-size="6.5">Tm (K)</text>
<text transform="translate(5.7 435.6) rotate(-90)">Count</text>
</g>
<rect x="22.9" y="366.2" width="16.2" height="8.4" fill="#CC99FF" stroke="#57298F" stroke-width="0.6"/>
<text x="41.2" y="373.1" font-family='"Liberation Sans", sans-serif' font-size="7.2" fill="#000000" stroke="#000000" stroke-width="0.1">Tm (K)</text>
<path d="M21.4 364.5V374.6" stroke="#aaa" stroke-width="2.4" fill="none"/>
</g>
<g>
<path d="M251.2 506.3V487.89H267.31V475.62H283.42V476.77H299.52V380.71H315.63V440.34H331.74V430.37H347.85V401.61H363.96V451.08H380.07V417.34H396.18V458.37H412.28V497.1H428.39V495.56H444.5V506.3Z" fill="#CC99FF"/>
<path d="M267.31 487.89V475.62" fill="none" stroke="#A577DD" stroke-width="0.5"/>
<path d="M251.2 487.89H267.31M267.31 475.62H283.42M283.42 475.62V506.3M283.42 476.77H299.52M299.52 476.77V506.3M299.52 380.71H315.63M299.52 476.77V380.71M315.63 380.71V440.34M315.63 440.34H331.74M331.74 440.34V506.3M331.74 430.37H347.85M347.85 430.37V506.3M331.74 440.34V430.37M347.85 401.61H363.96M347.85 430.37V401.61M363.96 401.61V451.08M363.96 451.08H380.07M380.07 451.08V506.3M380.07 417.34H396.18M396.18 417.34V506.3M380.07 451.08V417.34M396.18 458.37H412.28M428.39 506.3V495.56M428.39 495.56H444.5" fill="none" stroke="#57298F" stroke-width="0.58"/>
<polyline fill="none" stroke="#4ADCC8" stroke-opacity="0.72" stroke-width="1.0" points="251.2,495.64 252.81,494.7 254.42,493.69 256.03,492.62 257.64,491.47 259.25,490.25 260.87,488.96 262.48,487.59 264.09,486.15 265.7,484.62 267.31,483.01 268.92,481.33 270.53,479.56 272.14,477.7 273.75,475.76 275.36,473.74 276.97,471.64 278.58,469.46 280.19,467.2 281.81,464.86 283.42,462.44 285.03,459.96 286.64,457.4 288.25,454.78 289.86,452.11 291.47,449.37 293.08,446.59 294.69,443.77 296.3,440.91 297.91,438.02 299.52,435.11 301.14,432.18 302.75,429.25 304.36,426.32 305.97,423.4 307.58,420.51 309.19,417.64 310.8,414.82 312.41,412.05 314.02,409.33 315.63,406.69 317.24,404.12 318.86,401.65 320.47,399.27 322.08,397.01 323.69,394.86 325.3,392.84 326.91,390.95 328.52,389.21 330.13,387.61 331.74,386.17 333.35,384.9 334.96,383.79 336.57,382.86 338.19,382.11 339.8,381.53 341.41,381.14 343.02,380.94 344.63,380.92 346.24,381.09 347.85,381.44 349.46,381.98 351.07,382.7 352.68,383.59 354.29,384.67 355.9,385.91 357.51,387.31 359.13,388.87 360.74,390.59 362.35,392.45 363.96,394.45 365.57,396.57 367.18,398.81 368.79,401.17 370.4,403.62 372.01,406.17 373.62,408.8 375.23,411.5 376.85,414.26 378.46,417.08 380.07,419.93 381.68,422.82 383.29,425.74 384.9,428.66 386.51,431.59 388.12,434.52 389.73,437.44 391.34,440.33 392.95,443.2 394.56,446.03 396.18,448.82 397.79,451.56 399.4,454.25 401.01,456.88 402.62,459.45 404.23,461.95 405.84,464.38 407.45,466.74 409.06,469.01 410.67,471.21 412.28,473.33 413.89,475.37 415.5,477.32 417.12,479.19 418.73,480.98 420.34,482.68 421.95,484.31 423.56,485.85 425.17,487.31 426.78,488.69 428.39,490 430,491.23 431.61,492.39 433.22,493.48 434.84,494.5 436.45,495.46 438.06,496.35 439.67,497.19 441.28,497.96 442.89,498.69 444.5,499.35"/>
<path d="M251.2 362.5H444.5" fill="none" stroke="#555" stroke-width="1.0"/>
<path d="M444.5 362.5V506.3" fill="none" stroke="#444" stroke-width="0.6"/>
<path d="M251.2 362.5V506.3" fill="none" stroke="#aaa" stroke-width="1.6"/>
<path d="M251.2 506.3H444.5" fill="none" stroke="#333" stroke-width="0.8"/>
<path d="M251.2 506.3v2.2M283.42 506.3v2.2M315.63 506.3v2.2M347.85 506.3v2.2M380.07 506.3v2.2M412.28 506.3v2.2M444.5 506.3v2.2M267.31 506.3v1.1M299.52 506.3v1.1M331.74 506.3v1.1M363.96 506.3v1.1M396.18 506.3v1.1M428.39 506.3v1.1M251.2 506.3h-2.2M251.2 487.13h-2.2M251.2 467.95h-2.2M251.2 448.78h-2.2M251.2 429.61h-2.2M251.2 410.43h-2.2M251.2 391.26h-2.2M251.2 372.09h-2.2M251.2 496.71h-1.1M251.2 477.54h-1.1M251.2 458.37h-1.1M251.2 439.19h-1.1M251.2 420.02h-1.1M251.2 400.85h-1.1M251.2 381.67h-1.1M251.2 362.5h-1.1" stroke="#222222" stroke-width="0.75" fill="none"/>
<g font-family='"Liberation Serif", serif' font-size="5.7" fill="#000000" stroke="#000000" stroke-width="0.15">
<g text-anchor="middle">
<text x="251.2" y="514.8">100</text>
<text x="283.42" y="514.8">200</text>
<text x="315.63" y="514.8">300</text>
<text x="347.85" y="514.8">400</text>
<text x="380.07" y="514.8">500</text>
<text x="412.28" y="514.8">600</text>
<text x="444.5" y="514.8">700</text>
</g><g text-anchor="end">
<text x="247.5" y="507.93">0</text>
<text x="247.5" y="488.76">50</text>
<text x="247.5" y="469.58">100</text>
<text x="247.5" y="450.41">150</text>
<text x="247.5" y="431.24">200</text>
<text x="247.5" y="412.06">250</text>
<text x="247.5" y="392.89">300</text>
<text x="247.5" y="373.72">350</text>
</g></g>
<g font-family='"Liberation Serif", serif' font-size="6.6" fill="#000000" stroke="#000000" stroke-width="0.08" text-anchor="middle">
<text x="347.85" y="524.9" font-size="6.5">MW(g/mol)</text>
<text transform="translate(235.9 434.4) rotate(-90)">Count</text>
</g>
<rect x="253.3" y="364.4" width="16.4" height="7.8" fill="#CC99FF" stroke="#57298F" stroke-width="0.6"/>
<text x="271.8" y="370.8" font-family='"Liberation Serif", serif' font-size="7.3" fill="#000000" stroke="#000000" stroke-width="0.1">MW(g/mol)</text>
</g>
<g>
<path d="M501.79 503.5V378.26H514.49V498.94H527.18V501.01H539.87V501.26H552.57V501.01H565.26V501.18H577.95V502.34H590.65V503.09H603.34V503.09H616.03V503.33H628.73V503.17H641.42V503.5ZM666.81 503.5V503.09H679.5V503.5Z" fill="#CC99FF"/>
<path d="M501.79 503.5V378.26" fill="none" stroke="#A577DD" stroke-width="0.5"/>
<path d="M501.79 378.26H514.49M514.49 378.26V503.5M514.49 498.94H527.18M527.18 498.94V503.5M527.18 501.01H539.87M539.87 501.01V503.5M539.87 501.26H552.57M552.57 501.01H565.26M565.26 501.18H577.95M577.95 502.34H590.65M590.65 503.09H603.34M603.34 503.09H616.03M616.03 503.33H628.73M628.73 503.17H641.42M666.81 503.09H679.5" fill="none" stroke="#57298F" stroke-width="0.58"/>
<polyline fill="none" stroke="#55D4E6" stroke-opacity="0.72" stroke-width="1.1" points="489.1,435.97 490.69,429.66 492.27,423.34 493.86,417.07 495.45,410.96 497.03,405.11 498.62,399.62 500.21,394.58 501.79,390.1 503.38,386.25 504.97,383.11 506.55,380.76 508.14,379.22 509.73,378.54 511.31,378.73 512.9,379.79 514.49,381.69 516.07,384.4 517.66,387.86 519.25,392 520.83,396.74 522.42,401.99 524.01,407.65 525.59,413.62 527.18,419.81 528.77,426.12 530.35,432.45 531.94,438.71 533.53,444.83 535.11,450.75 536.7,456.4 538.29,461.73 539.87,466.72 541.46,471.34 543.05,475.57 544.63,479.42 546.22,482.88 547.81,485.97 549.39,488.69 550.98,491.08 552.57,493.16 554.15,494.95 555.74,496.48 557.33,497.77 558.91,498.86 560.5,499.77 562.09,500.52 563.67,501.14 565.26,501.64 566.85,502.05 568.43,502.37 570.02,502.63 571.61,502.83 573.19,502.99 574.78,503.12"/>
<path d="M489.1 362.5H679.5" fill="none" stroke="#666" stroke-width="1.0"/>
<path d="M679.5 362.5V503.5" fill="none" stroke="#444" stroke-width="1.0"/>
<path d="M489.1 362.5V503.5" fill="none" stroke="#c4c4c4" stroke-width="1.0"/>
<path d="M489.1 503.5H679.5" fill="none" stroke="#bbb" stroke-width="0.8"/>
<path d="M501.79 503.5v2.2M527.18 503.5v2.2M552.57 503.5v2.2M577.95 503.5v2.2M603.34 503.5v2.2M628.73 503.5v2.2M654.11 503.5v2.2M679.5 503.5v2.2M514.49 503.5v1.1M539.87 503.5v1.1M565.26 503.5v1.1M590.65 503.5v1.1M616.03 503.5v1.1M641.42 503.5v1.1M666.81 503.5v1.1M489.1 503.5h-2.2M489.1 486.91h-2.2M489.1 470.32h-2.2M489.1 453.74h-2.2M489.1 437.15h-2.2M489.1 420.56h-2.2M489.1 403.97h-2.2M489.1 387.38h-2.2M489.1 370.79h-2.2M489.1 495.21h-1.1M489.1 478.62h-1.1M489.1 462.03h-1.1M489.1 445.44h-1.1M489.1 428.85h-1.1M489.1 412.26h-1.1M489.1 395.68h-1.1M489.1 379.09h-1.1M489.1 362.5h-1.1" stroke="#222222" stroke-width="0.75" fill="none"/>
<g font-family='"Liberation Serif", serif' font-size="5.7" fill="#000000" stroke="#000000" stroke-width="0.15">
<g text-anchor="middle">
<text x="501.79" y="512.3">0</text>
<text x="527.18" y="512.3">2</text>
<text x="552.57" y="512.3">4</text>
<text x="577.95" y="512.3">6</text>
<text x="603.34" y="512.3">8</text>
<text x="628.73" y="512.3">10</text>
<text x="654.11" y="512.3">12</text>
<text x="679.5" y="512.3">14</text>
</g><g text-anchor="end">
<text x="485.4" y="505.18">0</text>
<text x="485.4" y="488.59">200</text>
<text x="485.4" y="472">400</text>
<text x="485.4" y="455.42">600</text>
<text x="485.4" y="438.83">800</text>
<text x="485.4" y="422.24">1000</text>
<text x="485.4" y="405.65">1200</text>
<text x="485.4" y="389.06">1400</text>
<text x="485.4" y="372.48">1600</text>
</g></g>
<g font-family='"Liberation Serif", serif' font-size="6.5" fill="#000000" stroke="#000000" stroke-width="0.08" text-anchor="middle">
<text x="584.3" y="523.3" font-size="6.5">y*10<tspan dy="-2.4" font-size="4.4">4</tspan></text>
<text transform="translate(471.6 433.2) rotate(-90)">Count</text>
</g>
<rect x="491.4" y="365.2" width="16" height="8.2" fill="#CC99FF" stroke="#57298F" stroke-width="0.6"/>
<text x="509.7" y="372.2" font-family='"Liberation Serif", serif' font-size="7.1" fill="#000000" stroke="#000000" stroke-width="0.1">y*10<tspan dy="-2.4" font-size="4.4">4</tspan></text>
<path d="M527.4 362.5V374" stroke="#666" stroke-width="0.8" fill="none"/>
</g>
</svg>
</body></html>
